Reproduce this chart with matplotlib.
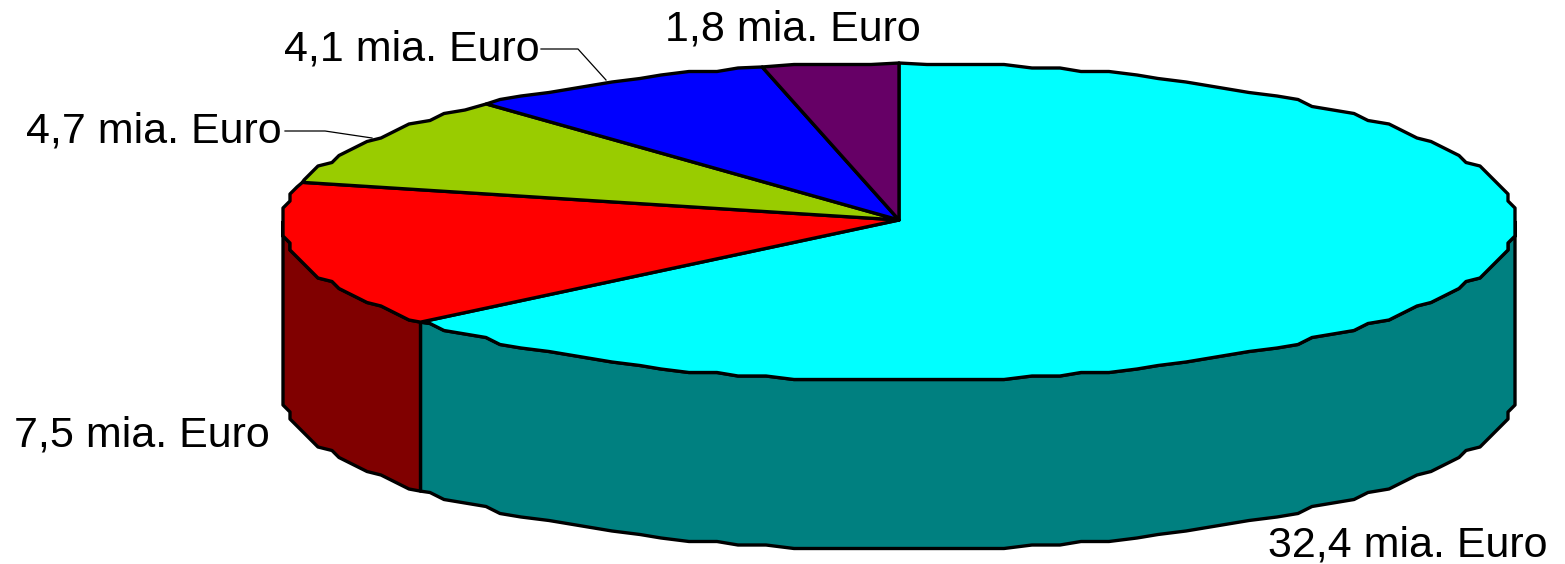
import numpy as np
import matplotlib
matplotlib.use('Agg')
import matplotlib.pyplot as plt
from matplotlib.patches import Polygon

plt.rcParams['font.family'] = ['Liberation Sans', 'DejaVu Sans']

labels = ['32,4 mia. Euro', '7,5 mia. Euro', '4,7 mia. Euro', '4,1 mia. Euro', '1,8 mia. Euro']
values = [32.4, 7.5, 4.7, 4.1, 1.8]
top_colors = ['#00ffff', '#ff0000', '#99cc00', '#0000ff', '#660066']
side_colors = ['#008080', '#800000', '#4d6600', '#000080', '#330033']

# pie geometry in pixels, the rim sits a little below the apex in the original
cx, apex_y = 899, 220
rim_y = 222
rx, ry = 616, 159
depth = 169
# the rim of the original is a bumpy polyline on coarse device coordinates
step_x, step_y = 7, 3.5
step_deg = 2.5


def ellipse(a1, a2):
    # angles in degrees, math direction, y grows downward in the axes
    k1, k2 = sorted([a1, a2])
    inner = np.arange(np.ceil(k1 / step_deg), np.floor(k2 / step_deg) + 1) * step_deg
    inner = inner[(inner > k1 + 0.5) & (inner < k2 - 0.5)]
    t = np.radians(inner[::-1] if a1 > a2 else inner)
    x = cx + np.round(rx * np.cos(t) / step_x) * step_x
    y = rim_y + np.round(-ry * np.sin(t) / step_y) * step_y
    ends = np.radians([a1, a2])
    ex = cx + rx * np.cos(ends)
    ey = rim_y - ry * np.sin(ends)
    return np.column_stack([np.r_[ex[0], x, ex[1]], np.r_[ey[0], y, ey[1]]])


fig = plt.figure(figsize=(15.65, 5.64), dpi=100)
ax = fig.add_axes([0, 0, 1, 1])
ax.set_xlim(0, 1565)
ax.set_ylim(564, 0)
ax.axis('off')

# slices go clockwise from 12 o'clock
sweeps = np.array(values) / sum(values) * 360
starts = 90 - np.concatenate([[0], np.cumsum(sweeps)[:-1]])
ends = starts - sweeps

# side walls first, only the part of the rim facing the viewer
for a1, a2, col in zip(starts, ends, side_colors):
    lo, hi = max(a2, -180), min(a1, 0)
    if lo >= hi:
        continue
    rim = ellipse(hi, lo)
    wall = np.vstack([rim, rim[::-1] + [0, depth]])
    ax.add_patch(Polygon(wall, closed=True, fc=col, ec='black', lw=2.4, joinstyle='round'))

# top faces
for a1, a2, col in zip(starts, ends, top_colors):
    rim = ellipse(a1, a2)
    face = np.vstack([[cx, apex_y], rim])
    ax.add_patch(Polygon(face, closed=True, fc=col, ec='black', lw=2.4, joinstyle='round'))

# labels
ax.text(1268, 545, labels[0], fontsize=31, ha='left', va='center')
ax.text(14, 436, labels[1], fontsize=31, ha='left', va='center')
ax.text(26, 132, labels[2], fontsize=31, ha='left', va='center')
ax.text(284, 49, labels[3], fontsize=31, ha='left', va='center')
ax.text(665, 30, labels[4], fontsize=31, ha='left', va='center')

# leader lines
ax.plot([285, 325, 372], [131, 131, 138], color='black', lw=0.9)
ax.plot([541, 578, 606], [49, 49, 80], color='black', lw=0.9)

fig.savefig('out.png', dpi=100)
